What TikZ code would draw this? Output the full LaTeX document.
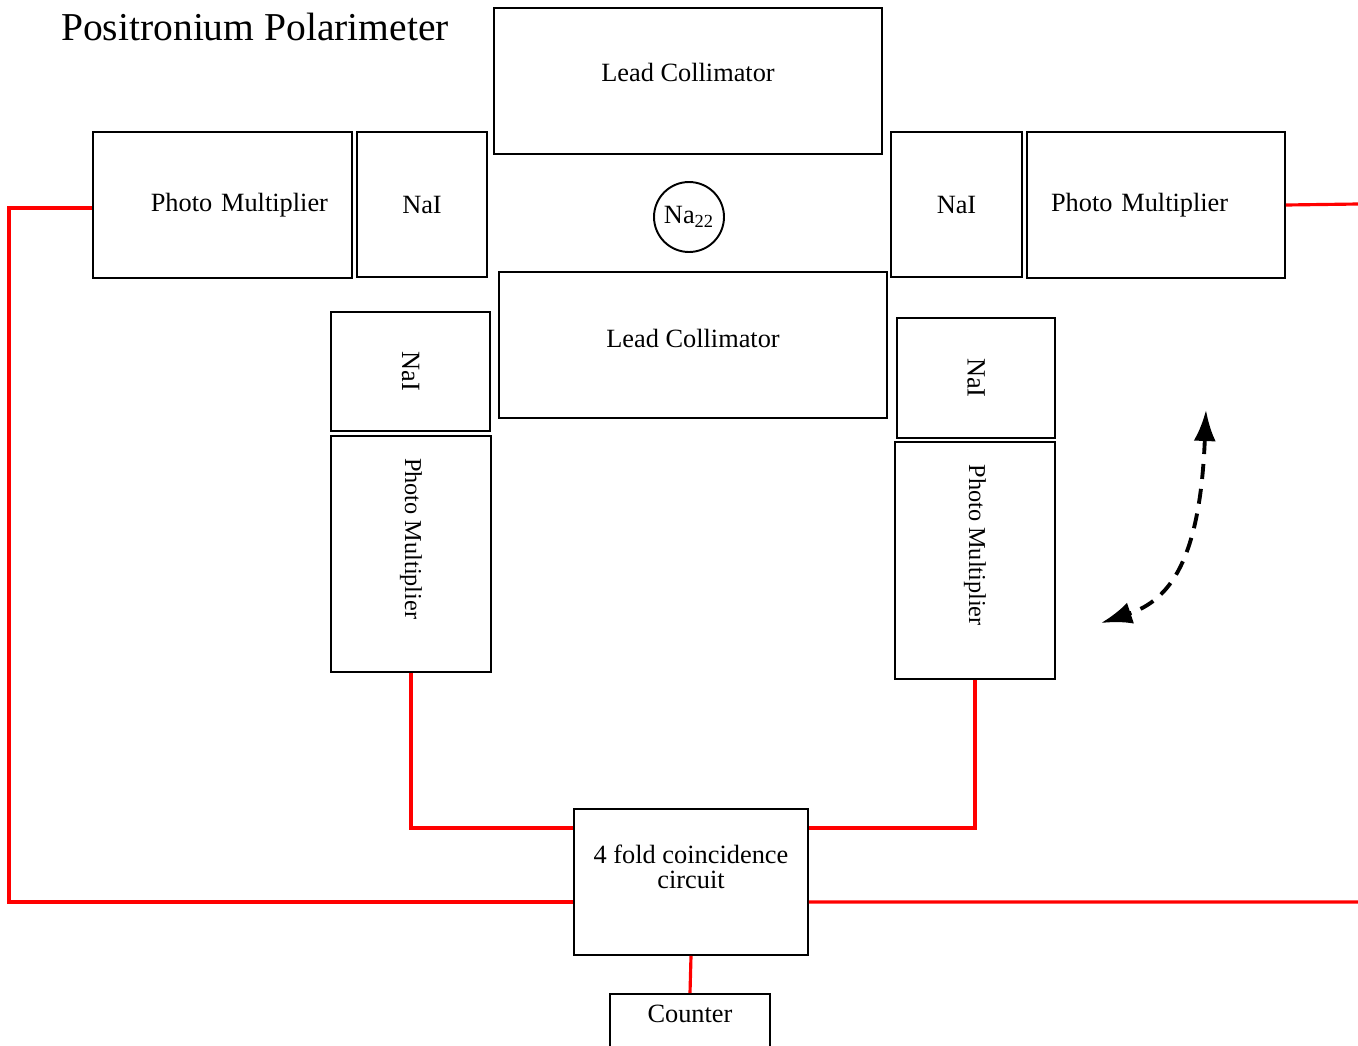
\documentclass[tikz,border=0pt]{standalone}
\usepackage{fontspec}
\setmainfont{Liberation Serif}
\usetikzlibrary{arrows.meta}

\begin{document}
\begin{tikzpicture}[x=0.02cm, y=-0.02cm,
  every node/.style={draw, line width=1.1pt, inner sep=0pt, font=\fontsize{15}{14}\selectfont},
  turned/.style={text height=0pt, text depth=109pt, font=\fontsize{13.8}{14}\selectfont},
  wire/.style={red, line width=1.8pt},
  swing/.style={line width=2.2pt, dash pattern=on 0.3cm off 0.2cm,
    {Latex[length=0.62cm,width=0.44cm]}-{Latex[length=0.62cm,width=0.44cm]}}]
  \useasboundingbox (0,0) rectangle (1358,1045);

  \node[draw=none, font=\fontsize{22.5}{26}\selectfont] (title) at (255,27) {Positronium Polarimeter};

  % top row
  \node[minimum width=7.76cm, minimum height=2.92cm, text depth=10pt] (lcTop) at (688,81) {Lead Collimator};
  \node[text width=4.22cm, align=right, inner xsep=0.48cm, minimum height=2.92cm] (pmL) at (222.5,205) {Photo Multiplier};
  \node[minimum width=2.6cm, minimum height=2.9cm] (naiL) at (422,204.5) {NaI};
  \node[circle, minimum size=1.4cm] (na) at (689,217) {Na\textsubscript{22}};
  \node[minimum width=2.62cm, minimum height=2.9cm] (naiR) at (956.5,204.5) {NaI};
  \node[text width=4.2cm, align=left, inner xsep=0.48cm, minimum height=2.92cm] (pmR) at (1156,205) {Photo Multiplier};
  \node[minimum width=7.76cm, minimum height=2.92cm, text depth=8pt] (lcBot) at (693,345) {Lead Collimator};

  % rotated arms
  \node[minimum width=3.18cm, minimum height=2.38cm] (naiLv) at (410.5,371.5) {\rotatebox{-90}{NaI}};
  \node[turned, minimum width=3.2cm, minimum height=4.72cm] (pmLv) at (411,554) {\rotatebox{-90}{Photo Multiplier}};
  \node[minimum width=3.16cm, minimum height=2.4cm] (naiRv) at (976,378) {\rotatebox{-90}{NaI}};
  \node[turned, minimum width=3.2cm, minimum height=4.74cm] (pmRv) at (975,560.5) {\rotatebox{-90}{Photo Multiplier}};

  % electronics
  \node[minimum width=4.68cm, minimum height=2.92cm, align=center, text depth=0.6cm] (coinc) at (691,882) {4 fold coincidence\\circuit};
  \node[anchor=north, minimum width=3.2cm, text height=11pt, text depth=1.3cm, inner ysep=5.5pt] (counter) at (690,993) {Counter};

  \coordinate (edgeR1) at (1358,204);
  \coordinate (edgeR2) at (1358,902);
  \coordinate (swingA) at (1206,410);
  \coordinate (swingB) at (1101,623);

  \draw[wire] ([yshift=-0.06cm]pmL.west) -- ++(-83,0) |- ([yshift=-0.4cm]coinc.west);
  \draw[wire] (pmR.east) -- (edgeR1);
  \draw[wire] ([yshift=-0.4cm]coinc.east) -- (edgeR2);
  \draw[wire] (pmLv.south) |- ([yshift=-0.4cm]coinc.north west);
  \draw[wire] (pmRv.south) |- ([yshift=-0.4cm]coinc.north east);
  \draw[wire] (coinc.south) -- (counter.north);

  \draw[swing] (swingA) .. controls (1200,560) and (1170,600) .. (swingB);
\end{tikzpicture}
\end{document}
